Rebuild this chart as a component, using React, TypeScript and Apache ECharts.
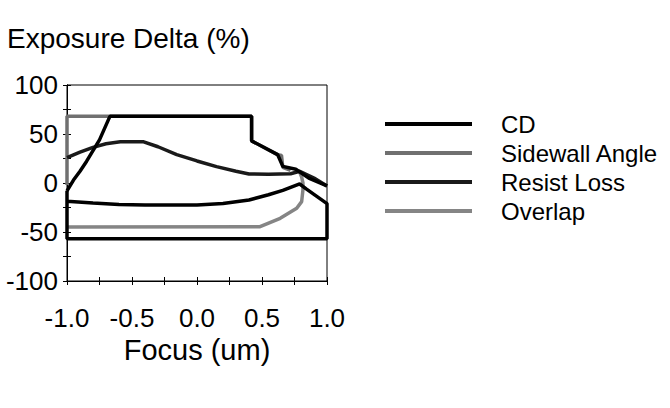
import React, { useEffect, useRef } from "react";
import * as echarts from "echarts";

const FONT = "'Liberation Sans', Arial, sans-serif";

const seriesNames = ["CD", "Sidewall Angle", "Resist Loss", "Overlap"];

// x: focus (um), y: exposure delta (%)
const cdOuter: [number, number][] = [
  [-1.0, -8], [-0.95, 3], [-0.9, 12], [-0.85, 22], [-0.8, 33], [-0.75, 44],
  [-0.71, 56], [-0.67, 68], [0.42, 68], [0.42, 43], [0.62, 29], [0.66, 17],
  [0.76, 14], [0.86, 5], [1.0, -3],
];

const cdLower: [number, number][] = [
  [-1.0, -18.5], [-0.8, -20.5], [-0.6, -22], [-0.4, -22.5], [-0.2, -22.5],
  [0.0, -22.5], [0.2, -21], [0.4, -17.3], [0.55, -12], [0.66, -7.5],
  [0.79, -1], [0.84, -6], [1.0, -21], [1.0, -57], [-1.0, -57], [-1.0, -8],
];

const resistLoss: [number, number][] = [
  [-1.0, 26], [-0.9, 31.5], [-0.8, 36.4], [-0.7, 40], [-0.59, 42], [-0.41, 42],
  [-0.3, 37], [-0.156, 29], [0.0, 22.5], [0.15, 16.7], [0.3, 12], [0.4, 9.2],
  [0.55, 9], [0.72, 9.5], [0.79, 12], [0.9, 5], [1.0, -3],
];

const sidewallAngle: [number, number][] = [
  [-1.0, -2], [-1.0, 68], [-0.67, 68], [0.42, 68], [0.42, 43], [0.62, 29],
  [0.65, 28], [0.66, 16], [0.72, 13],
];

const overlap: [number, number][] = [
  [-1.0, -45], [0.485, -44.6], [0.64, -36], [0.767, -25.8], [0.805, -19],
  [0.815, -7], [0.815, 0], [0.805, 6], [0.79, 11],
];

const xTicks = { min: -1, max: 1, step: 0.25, labelStep: 0.5 };
const yTicks = { min: -100, max: 100, step: 25, labelStep: 50 };

export default function App() {
  const ref = useRef<HTMLDivElement>(null);

  useEffect(() => {
    if (!ref.current) return;
    const chart = echarts.init(ref.current, undefined, { renderer: "svg" });

    const xLabel = (v: number) =>
      Math.abs(v / xTicks.labelStep - Math.round(v / xTicks.labelStep)) < 1e-6 ? v.toFixed(1) : "";
    const yLabel = (v: number) =>
      Math.abs(v / yTicks.labelStep - Math.round(v / yTicks.labelStep)) < 1e-6 ? String(v) : "";

    const axisLine = { show: true, onZero: false, lineStyle: { color: "#000", width: 1 } };

    chart.setOption({
      animation: false,
      backgroundColor: "#fff",
      title: {
        text: "Exposure Delta (%)",
        left: 7,
        top: 24,
        padding: 0,
        textStyle: { fontSize: 28, fontWeight: "normal", fontFamily: FONT, color: "#000" },
      },
      legend: {
        orient: "vertical",
        left: 385,
        top: 112,
        padding: 0,
        itemWidth: 87,
        itemHeight: 4,
        itemGap: 5,
        icon: "rect",
        selectedMode: false,
        data: seriesNames,
        textStyle: { fontSize: 24, fontFamily: FONT, color: "#000", padding: [0, 0, 0, 24], lineHeight: 20 },
      },
      grid: { left: 67, right: 343, top: 85, bottom: 127, show: true, borderColor: "#000", borderWidth: 1 },
      xAxis: [
        {
          type: "value",
          min: xTicks.min,
          max: xTicks.max,
          interval: xTicks.step,
          axisLine,
          axisTick: { show: true, inside: true, length: 4, lineStyle: { color: "#000" } },
          axisLabel: { formatter: xLabel, fontSize: 26, fontFamily: FONT, color: "#000", margin: 24 },
          splitLine: { show: false },
          name: "Focus (um)",
          nameLocation: "middle",
          nameGap: 54,
          nameTextStyle: { fontSize: 29, fontFamily: FONT, color: "#000" },
        },
        {
          type: "value",
          position: "bottom",
          min: xTicks.min,
          max: xTicks.max,
          interval: xTicks.step,
          axisLine,
          axisTick: { show: true, inside: false, length: 4, lineStyle: { color: "#000" } },
          axisLabel: { show: false },
          splitLine: { show: false },
        },
      ],
      yAxis: [
        {
          type: "value",
          min: yTicks.min,
          max: yTicks.max,
          interval: yTicks.step,
          axisLine,
          axisTick: { show: true, inside: true, length: 4, lineStyle: { color: "#000" } },
          axisLabel: { formatter: yLabel, fontSize: 26, fontFamily: FONT, color: "#000", margin: 9 },
          splitLine: { show: false },
        },
        {
          type: "value",
          position: "left",
          min: yTicks.min,
          max: yTicks.max,
          interval: yTicks.step,
          axisLine,
          axisTick: { show: true, inside: false, length: 4, lineStyle: { color: "#000" } },
          axisLabel: { show: false },
          splitLine: { show: false },
        },
      ],
      series: [
        {
          name: "CD",
          type: "line",
          data: cdOuter,
          symbol: "none",
          z: 5,
          itemStyle: { color: "#000" },
          lineStyle: { color: "#000", width: 3.5 },
        },
        {
          name: "Sidewall Angle",
          type: "line",
          data: sidewallAngle,
          symbol: "none",
          z: 2,
          itemStyle: { color: "#707070" },
          lineStyle: { color: "#707070", width: 3.5 },
        },
        {
          name: "Resist Loss",
          type: "line",
          data: resistLoss,
          symbol: "none",
          z: 4,
          itemStyle: { color: "#1a1a1a" },
          lineStyle: { color: "#1a1a1a", width: 3.5 },
        },
        {
          name: "Overlap",
          type: "line",
          data: overlap,
          symbol: "none",
          z: 3,
          itemStyle: { color: "#858585" },
          lineStyle: { color: "#858585", width: 3.5 },
        },
        {
          name: "CD",
          type: "line",
          data: cdLower,
          symbol: "none",
          z: 5,
          itemStyle: { color: "#000" },
          lineStyle: { color: "#000", width: 3.5 },
        },
      ],
    });

    return () => chart.dispose();
  }, []);

  return (
    <div
      ref={ref}
      style={{ position: "absolute", left: 0, top: 0, width: 670, height: 408, background: "#fff" }}
    />
  );
}
